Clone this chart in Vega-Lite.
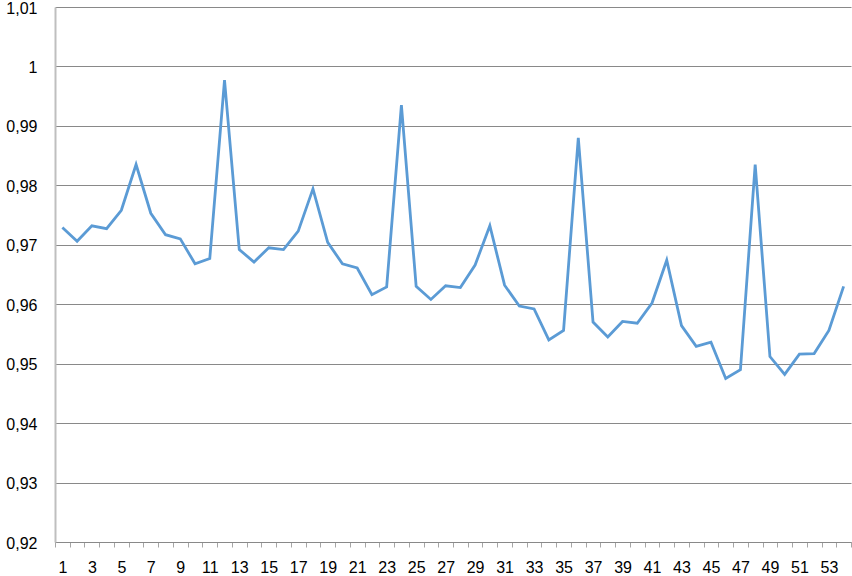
{
  "$schema": "https://vega.github.io/schema/vega-lite/v6.json",
  "width": 796,
  "height": 535,
  "autosize": {"type": "none"},
  "padding": {"left": 55, "top": 7, "right": 1, "bottom": 34},
  "background": "white",
  "data": {"values": [
    {"n": 1, "v": 0.9729}, {"n": 2, "v": 0.9706}, {"n": 3, "v": 0.9732}, {"n": 4, "v": 0.9727},
    {"n": 5, "v": 0.9758}, {"n": 6, "v": 0.9835}, {"n": 7, "v": 0.9753}, {"n": 8, "v": 0.9717},
    {"n": 9, "v": 0.9710}, {"n": 10, "v": 0.9668}, {"n": 11, "v": 0.9677}, {"n": 12, "v": 0.9977},
    {"n": 13, "v": 0.9692}, {"n": 14, "v": 0.9671}, {"n": 15, "v": 0.9695}, {"n": 16, "v": 0.9692},
    {"n": 17, "v": 0.9723}, {"n": 18, "v": 0.9794}, {"n": 19, "v": 0.9704}, {"n": 20, "v": 0.9668},
    {"n": 21, "v": 0.9661}, {"n": 22, "v": 0.9616}, {"n": 23, "v": 0.9629}, {"n": 24, "v": 0.9935},
    {"n": 25, "v": 0.9630}, {"n": 26, "v": 0.9608}, {"n": 27, "v": 0.9631}, {"n": 28, "v": 0.9628},
    {"n": 29, "v": 0.9666}, {"n": 30, "v": 0.9732}, {"n": 31, "v": 0.9632}, {"n": 32, "v": 0.9597},
    {"n": 33, "v": 0.9592}, {"n": 34, "v": 0.9540}, {"n": 35, "v": 0.9556}, {"n": 36, "v": 0.9880},
    {"n": 37, "v": 0.9570}, {"n": 38, "v": 0.9545}, {"n": 39, "v": 0.9571}, {"n": 40, "v": 0.9568},
    {"n": 41, "v": 0.9602}, {"n": 42, "v": 0.9674}, {"n": 43, "v": 0.9564}, {"n": 44, "v": 0.9529},
    {"n": 45, "v": 0.9536}, {"n": 46, "v": 0.9475}, {"n": 47, "v": 0.9490}, {"n": 48, "v": 0.9835},
    {"n": 49, "v": 0.9512}, {"n": 50, "v": 0.9482}, {"n": 51, "v": 0.9516}, {"n": 52, "v": 0.9517},
    {"n": 53, "v": 0.9556}, {"n": 54, "v": 0.9630}
  ]},
  "config": {
    "view": {"stroke": null},
    "axis": {"labelFont": "Liberation Sans", "labelFontSize": 16, "labelColor": "#000000", "title": null}
  },
  "mark": {"type": "line", "color": "#5B9BD5", "strokeWidth": 2.8, "strokeJoin": "miter"},
  "encoding": {
    "x": {
      "field": "n", "type": "ordinal",
      "scale": {"type": "band", "paddingInner": 0, "paddingOuter": 0},
      "axis": {
        "labelAngle": 0, "labelOverlap": false, "tickBand": "extent",
        "labelExpr": "datum.value % 2 == 1 ? datum.label : ''",
        "domainColor": "#898989", "domainWidth": 1,
        "tickColor": "#a6a6a6", "tickSize": 5, "labelPadding": 12,
        "grid": false
      }
    },
    "y": {
      "field": "v", "type": "quantitative",
      "scale": {"domain": [0.92, 1.01], "nice": false, "zero": false},
      "axis": {
        "values": [0.92, 0.93, 0.94, 0.95, 0.96, 0.97, 0.98, 0.99, 1.0, 1.01],
        "labelExpr": "replace(format(datum.value, '.2~f'), '.', ',')",
        "ticks": false, "labelPadding": 18, "labelOffset": 1,
        "domainColor": "#bfbfbf", "domainWidth": 2,
        "grid": true, "gridColor": "#898989", "gridWidth": 1
      }
    }
  }
}
